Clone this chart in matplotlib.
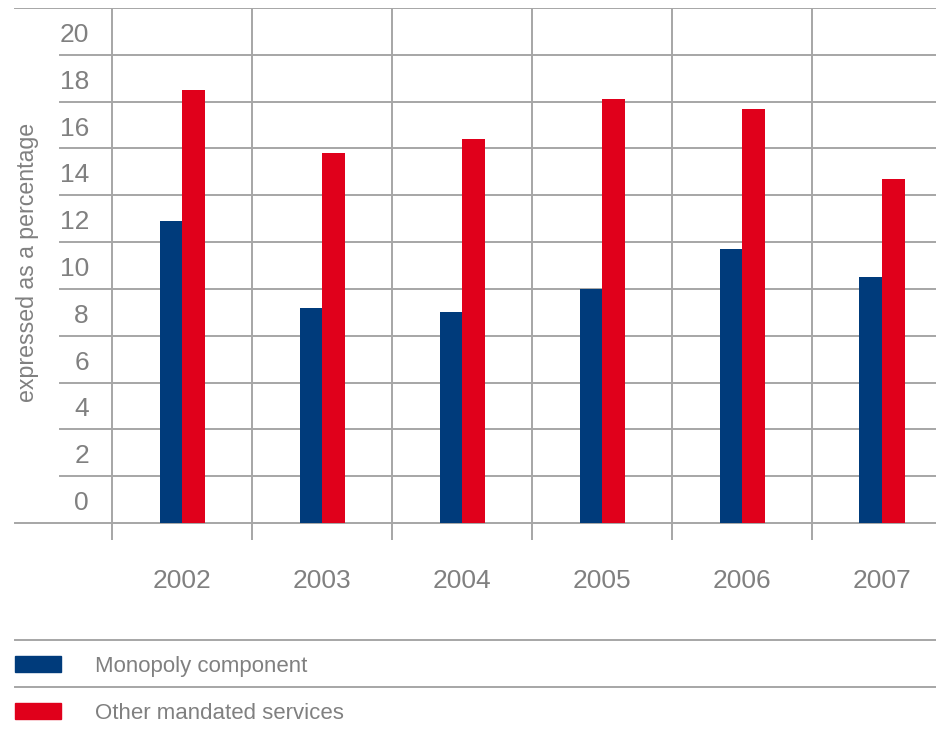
import matplotlib
matplotlib.use("Agg")
import matplotlib.pyplot as plt
import numpy as np

years = ["2002", "2003", "2004", "2005", "2006", "2007"]
monopoly = [12.9, 9.2, 9.0, 10.0, 11.7, 10.5]
other_mandated = [18.5, 15.8, 16.4, 18.1, 17.7, 14.7]
tick_labels = ["0", "2", "4", "6", "8", "10", "12", "14", "16", "18", "20"]
series_names = ["Monopoly component", "Other mandated services"]

BLUE = "#003B7B"
RED = "#E0001B"
GRID = "#A6A6A6"
TEXT = "#808080"

plt.rcParams["font.family"] = ["Liberation Sans", "DejaVu Sans"]

W, H = 936, 729
fig = plt.figure(figsize=(W / 100, H / 100), dpi=100)

# axes: spans pixel y from 8 (top) to 540 (bottom), full width
top_px, base_px, bot_px = 8, 523, 540
ymax = 22.0
unit = (base_px - top_px) / ymax
ymin = -(bot_px - base_px) / unit
ax = fig.add_axes([0, 1 - bot_px / H, 1, (bot_px - top_px) / H])
cat_px, cat0_px = 140.0, 182.0
ax.set_xlim(-cat0_px / cat_px, (W - cat0_px) / cat_px)
ax.set_ylim(ymin, ymax)
ax.axis("off")

x = np.arange(len(years))
bw = 22.5 / cat_px
ax.bar(x - bw / 2, monopoly, width=bw, color=BLUE, zorder=3)
ax.bar(x + bw / 2, other_mandated, width=bw, color=RED, zorder=3)

# horizontal grid lines
for v in np.arange(0, ymax + 0.1, 2):
    start = 15 / W if v in (0, ymax) else 60 / W
    ax.axhline(v, xmin=start, xmax=1, color=GRID, lw=1.4, zorder=1)
# vertical separators
for i in range(len(years)):
    ax.plot([i - 0.5, i - 0.5], [ymin, ymax], color=GRID, lw=1.4, zorder=1,
            solid_capstyle="butt")

# y tick labels (placed in bands)
shift = 3.5 / unit
for k, lab in enumerate(tick_labels):
    ax.text(89 / cat_px - cat0_px / cat_px, 2 * k + 1 - shift, lab, ha="right",
            va="center", fontsize=19, color=TEXT)

# year labels
for i, yr in enumerate(years):
    fig.text((cat0_px + cat_px * i) / W, 1 - 581 / H, yr, ha="center", va="center",
             fontsize=19, color=TEXT)

fig.text(28 / W, 1 - 262 / H, "expressed as a percentage", rotation=90,
         ha="center", va="center", fontsize=16.7, color=TEXT)

# legend
lax = fig.add_axes([0, 0, 1, 1], facecolor="none")
lax.set_xlim(0, W)
lax.set_ylim(H, 0)
lax.axis("off")
for ly in (640, 687):
    lax.plot([15, W], [ly, ly], color=GRID, lw=1.4)
for (yc, col, name) in ((664, BLUE, series_names[0]), (711, RED, series_names[1])):
    lax.add_patch(plt.Rectangle((15, yc - 8), 46, 16, color=col))
    lax.text(95, yc + 2.5, name, ha="left", va="center", fontsize=16, color=TEXT)

fig.savefig("out.png", dpi=100)
